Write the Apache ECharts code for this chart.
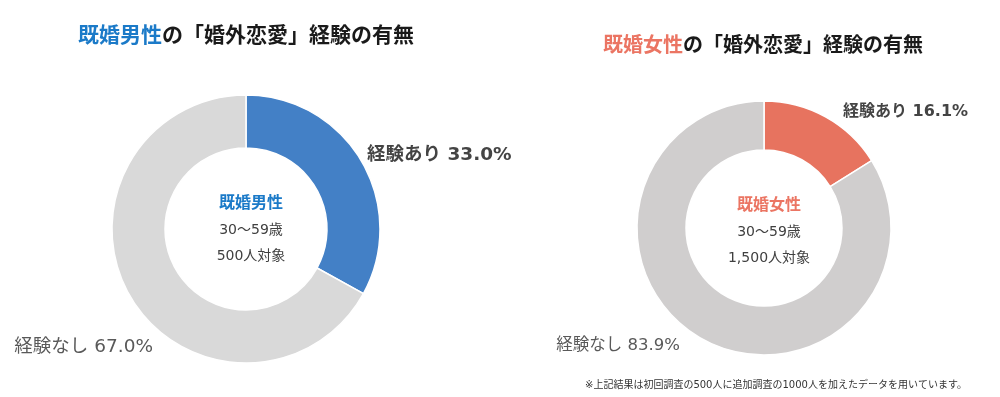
<!DOCTYPE html>
<html>
<head>
<meta charset="utf-8">
<script src="https://cdn.jsdelivr.net/npm/echarts@6/dist/echarts.min.js"></script>
<style>
  html, body { margin: 0; padding: 0; background: #fff; }
  #chart { width: 1000px; height: 397px; }
</style>
</head>
<body>
<div id="chart"></div>
<script>
const categories = ['経験あり', '経験なし']
const maleValues = [33.0, 67.0]
const femaleValues = [16.1, 83.9]
const maleInfo = ['既婚男性', '30〜59歳', '500人対象']
const femaleInfo = ['既婚女性', '30〜59歳', '1,500人対象']
const note = '※上記結果は初回調査の500人に追加調査の1000人を加えたデータを用いています。'

const FONT = '"Noto Sans CJK JP", "Noto Sans", sans-serif'
// wide latin digits like the original, CJK falls back to Noto
const MIX = '"DejaVu Sans", "Noto Sans CJK JP", sans-serif'
const chart = echarts.init(document.getElementById('chart'))

const centerTitles = (info, x, y, color) => [
  { text: info[0], left: x, top: y - 40, textAlign: 'center',
    textStyle: { fontFamily: FONT, fontSize: 16, fontWeight: 'bold', color } },
  { text: info[1], left: x, top: y - 11, textAlign: 'center',
    textStyle: { fontFamily: MIX, fontSize: 14, fontWeight: 'normal', color: '#404040' } },
  { text: info[2], left: x, top: y + 15, textAlign: 'center',
    textStyle: { fontFamily: MIX, fontSize: 14, fontWeight: 'normal', color: '#404040' } },
]

// label anchor + style per slice (text placement only)
const maleLabels = [
  { x: 367, y: 155, align: 'left', size: 18.5, weight: 'bold', color: '#444' },
  { x: 153, y: 347, align: 'right', size: 18.5, weight: 'normal', color: '#595959' },
]
const femaleLabels = [
  { x: 843, y: 112, align: 'left', size: 16, weight: 'bold', color: '#444' },
  { x: 680, y: 346, align: 'right', size: 16.5, weight: 'normal', color: '#595959' },
]

const donut = (values, center, radius, colors, labels) => ({
  type: 'pie',
  center,
  radius,
  startAngle: 90,
  clockwise: true,
  silent: true,
  itemStyle: { borderColor: '#fff', borderWidth: 1.5 },
  label: {
    show: true,
    position: 'outside',
    overflow: 'none',
    formatter: p => `${p.name} ${p.value.toFixed(1)}%`,
    fontFamily: MIX,
  },
  labelLine: { show: false },
  labelLayout: p => ({
    x: labels[p.dataIndex].x,
    y: labels[p.dataIndex].y,
    align: labels[p.dataIndex].align,
    verticalAlign: 'middle',
    hideOverlap: false,
  }),
  data: values.map((v, i) => ({
    name: categories[i],
    value: v,
    itemStyle: { color: colors[i] },
    label: { fontSize: labels[i].size, fontWeight: labels[i].weight, color: labels[i].color },
  })),
})

const option = {
  backgroundColor: '#fff',
  animation: false,
  title: [
    {
      text: '{hl|既婚男性}{rest|の「婚外恋愛」経験の有無}',
      left: 73, top: 19,
      textStyle: {
        rich: {
          hl: { fontFamily: FONT, fontSize: 21, fontWeight: 'bold', color: '#1b7ac8' },
          rest: { fontFamily: FONT, fontSize: 21, fontWeight: 'bold', color: '#1a1a1a' },
        },
      },
    },
    {
      text: '{hl|既婚女性}{rest|の「婚外恋愛」経験の有無}',
      left: 598, top: 29,
      textStyle: {
        rich: {
          hl: { fontFamily: FONT, fontSize: 20, fontWeight: 'bold', color: '#eb7563' },
          rest: { fontFamily: FONT, fontSize: 20, fontWeight: 'bold', color: '#1a1a1a' },
        },
      },
    },
    ...centerTitles(maleInfo, 246, 229, '#1b7ac8'),
    ...centerTitles(femaleInfo, 764, 231, '#eb7563'),
    {
      text: note, left: 580, top: 375,
      textStyle: { fontFamily: MIX, fontSize: 10, fontWeight: 'normal', color: '#333' },
    },
  ],
  series: [
    donut(maleValues, [246, 229], [81, 134], ['#4380c6', '#d9d9d9'], maleLabels),
    donut(femaleValues, [764, 228], [78, 127], ['#e7735f', '#d0cece'], femaleLabels),
  ],
}

chart.setOption(option)
</script>
</body>
</html>
